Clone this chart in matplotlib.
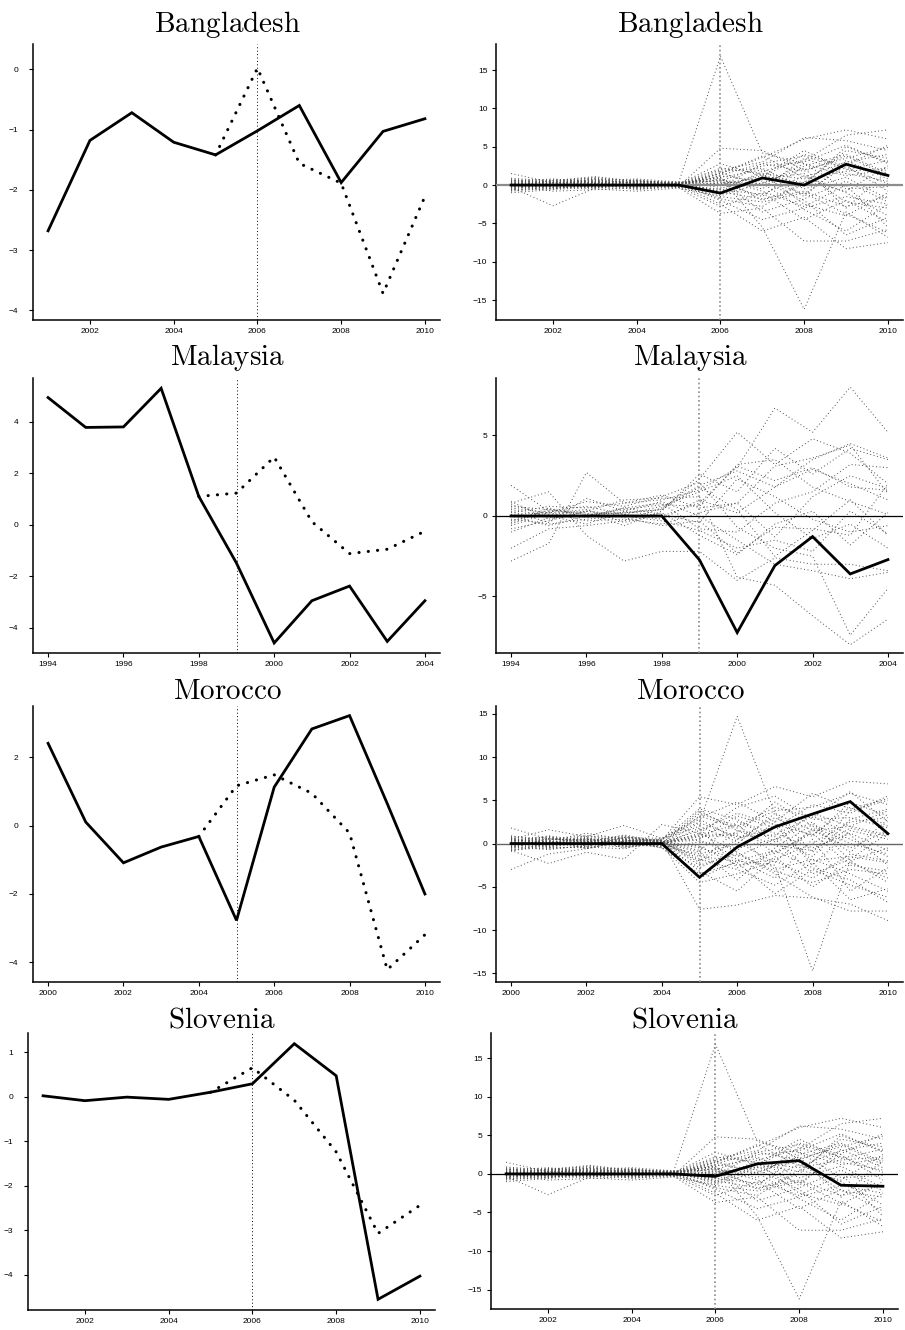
import numpy as np
import matplotlib
matplotlib.use("Agg")
import matplotlib.pyplot as plt

plt.rcParams['font.family'] = ['Liberation Sans', 'DejaVu Sans']
plt.rcParams['mathtext.fontset'] = 'cm'

# ---------------- data ----------------
countries = ["Bangladesh", "Malaysia", "Morocco", "Slovenia"]

bd_years = list(range(2001, 2011))
bd_actual = [-2.68, -1.18, -0.72, -1.21, -1.42, -1.02, -0.60, -1.88, -1.03, -0.82]
bd_synth_years = list(range(2005, 2011))
bd_synth = [-1.42, 0.02, -1.56, -1.89, -3.72, -2.11]
bd_gap = [0.0, 0.0, 0.0, 0.0, 0.0, -1.05, 0.93, 0.0, 2.72, 1.25]
bd_treat = 2006

my_years = list(range(1994, 2005))
my_actual = [4.94, 3.78, 3.80, 5.30, 1.10, -1.49, -4.59, -2.95, -2.38, -4.53, -2.95]
my_synth_years = list(range(1998, 2005))
my_synth = [1.10, 1.23, 2.63, 0.12, -1.12, -0.95, -0.25]
my_gap = [0.0, 0.0, 0.0, 0.0, 0.0, -2.73, -7.24, -3.08, -1.28, -3.60, -2.71]
my_treat = 1999

ma_years = list(range(2000, 2011))
ma_actual = [2.40, 0.10, -1.09, -0.63, -0.32, -2.77, 1.12, 2.82, 3.21, 0.64, -2.00]
ma_synth_years = list(range(2004, 2011))
ma_synth = [-0.32, 1.16, 1.48, 0.94, -0.22, -4.21, -3.19]
ma_gap = [0.0, 0.0, 0.0, 0.0, 0.0, -3.90, -0.40, 1.92, 3.42, 4.85, 1.15]
ma_treat = 2005

sl_years = list(range(2001, 2011))
sl_actual = [0.02, -0.09, -0.01, -0.06, 0.10, 0.29, 1.19, 0.47, -4.55, -4.03]
sl_synth_years = list(range(2005, 2011))
sl_synth = [0.10, 0.65, -0.08, -1.24, -3.07, -2.44]
sl_gap = [0.0, 0.0, 0.0, 0.0, 0.0, -0.32, 1.30, 1.72, -1.47, -1.60]
sl_treat = 2006

# placebo gaps, years 2001-2010 (same donor pool for Bangladesh and Slovenia)
placebo_2001_2010 = [
    [0.2, 0.1, 0.3, 0.1, 0.3, 16.8, 4.2, 2.8, 1.2, 2.0],
    [0.1, -0.2, 0.0, -0.1, 0.2, 1.0, -5.5, -16.2, -3.5, -6.8],
    [1.5, 0.3, 0.2, 0.0, -0.2, 4.8, 4.5, 2.0, 3.5, 4.9],
    [-0.3, -2.7, -0.4, 0.2, 0.1, 2.0, 3.0, 6.2, 5.8, 4.5],
    [0.4, 0.6, 1.1, 0.5, 0.0, 1.5, 3.6, 6.0, 7.2, 6.0],
    [-0.5, 0.2, 0.4, 0.6, 0.3, -0.8, 1.8, 3.2, 6.5, 7.2],
    [0.6, 0.4, -0.3, -0.5, -0.3, -3.7, -3.0, -7.3, -7.3, -5.8],
    [-0.8, -0.4, 0.3, -0.2, 0.1, -2.5, -6.0, -4.2, -8.3, -7.5],
    [0.3, 0.5, 0.7, 0.2, -0.1, 1.2, 0.5, -2.0, -6.5, -4.2],
    [-0.2, 0.1, 0.6, 0.8, 0.4, 0.5, 2.5, 3.0, 5.2, 2.8],
    [0.0, -0.3, -0.5, -0.8, -0.4, -1.5, -2.2, -1.0, -3.8, -6.2],
    [0.5, 0.8, 0.4, 0.3, 0.1, 2.8, 1.2, 4.5, 2.0, 3.2],
    [-0.6, -0.5, 0.1, 0.4, 0.2, -1.2, 0.8, 1.5, -2.2, -3.0],
    [0.2, 0.4, 0.5, -0.4, -0.2, 0.3, -1.5, 2.5, 4.0, 1.5],
    [-1.0, -0.6, -0.2, 0.3, 0.3, -2.0, -4.5, -3.0, -1.5, -2.5],
    [0.8, 0.2, -0.4, 0.1, 0.0, 1.8, 2.2, -0.5, 1.0, -1.8],
    [-0.4, 0.3, 0.8, 0.6, -0.3, 0.8, -0.5, 3.5, 1.5, 0.5],
    [0.3, -0.1, 0.2, -0.6, -0.1, -0.5, 1.5, -2.5, -4.0, -1.0],
    [-0.2, 0.6, 0.9, 0.2, 0.2, 1.5, 3.8, 1.0, 3.0, 4.0],
    [0.1, -0.8, -0.6, -0.3, 0.1, -1.8, -2.8, 0.5, -0.8, 2.5],
    [0.6, 0.7, 0.3, 0.5, 0.3, 0.2, 0.9, -1.2, 2.6, 5.2],
    [-0.7, -0.2, 0.4, 0.1, -0.2, -2.8, -1.0, -4.5, -2.0, -4.8],
    [0.2, 0.3, -0.2, -0.3, 0.1, 0.9, -2.0, 0.0, 5.0, 3.0],
    [0.9, 0.5, 0.6, 0.2, -0.1, 1.6, 0.0, 2.8, -0.5, -0.2],
    [-0.3, -0.4, -0.1, 0.5, 0.4, -0.3, 2.8, 1.8, 3.8, 1.2],
    [0.4, 0.1, 0.7, -0.2, 0.2, 0.6, -3.5, -1.8, 0.5, -2.2],
    [-0.5, 0.4, 0.2, 0.7, 0.1, -1.0, 1.0, 4.0, 2.5, -0.8],
    [0.0, 0.2, 0.5, 0.3, -0.3, 0.4, 0.2, -3.2, -6.0, -2.5],
    [0.7, -0.3, -0.2, -0.1, 0.2, 2.2, 1.5, 0.8, 1.8, 2.2],
    [-0.1, 0.6, 0.3, -0.4, 0.0, -0.6, -1.2, 1.2, -1.0, -4.0],
    [0.3, -0.5, 0.1, 0.4, 0.3, 1.0, 2.0, -1.5, 3.2, 0.8],
    [-0.4, 0.0, 0.8, 0.2, -0.2, -1.4, 0.3, 2.2, -3.0, 1.8],
    [0.5, 0.3, -0.3, 0.6, 0.1, 0.7, -0.8, -2.8, 0.0, -5.5],
    [-0.2, 0.2, 0.4, -0.2, 0.2, 0.0, 1.2, 0.3, 4.5, 3.5],
    [0.1, 0.4, 1.0, 0.4, -0.1, 1.3, 2.8, 3.8, 2.2, 0.2],
    [-0.6, -0.1, -0.3, 0.0, 0.3, -0.9, -1.8, -0.8, -2.8, -1.5],
]

# placebo gaps, years 1994-2004 (Malaysia)
placebo_1994_2004 = [
    [1.9, 0.3, 0.1, 0.2, 0.4, 2.3, 5.2, 3.2, 4.8, 3.9, 2.0],
    [-2.8, -1.7, 2.7, 0.8, 1.0, 1.6, 3.0, 6.7, 5.2, 8.0, 5.2],
    [0.8, 1.5, -1.2, -2.8, -2.2, -2.2, -4.0, -2.6, -3.0, -3.0, -3.4],
    [-2.0, -0.8, -0.6, -0.3, 0.5, 1.9, 2.8, 1.8, 3.5, 4.5, 3.6],
    [0.5, 0.2, 0.9, 0.6, 1.2, 2.1, -0.7, -2.0, -2.5, -7.4, -4.5],
    [-0.8, -0.3, 0.3, 1.0, 1.1, 1.2, -3.8, -4.3, -6.2, -8.0, -6.4],
    [0.3, -0.4, 1.1, 0.3, 0.0, 0.8, 3.1, 2.2, 3.0, 1.8, 1.6],
    [-0.4, 0.5, -0.1, 0.5, 0.8, -0.8, -1.0, 0.8, 1.5, 3.2, 3.0],
    [0.1, 0.2, -0.3, -0.2, -0.5, 0.2, 0.8, 3.1, 3.6, 4.4, 1.4],
    [0.9, -0.2, 0.3, 0.1, 0.6, 1.5, 2.5, 0.2, -1.4, -0.5, -2.0],
    [-0.6, 0.2, 0.4, -0.4, 0.2, -1.2, -2.4, -0.5, 0.3, -1.8, 0.2],
    [0.2, 0.6, 0.5, 0.8, 1.3, 0.5, 0.8, -1.3, 1.2, 2.5, 1.7],
    [-0.2, -0.5, -0.2, 0.0, -0.3, -0.9, -2.0, -1.5, -2.2, 0.3, -1.1],
    [0.6, 0.4, 0.2, -0.6, 0.3, 2.6, 1.5, 4.2, 2.6, 4.2, 3.5],
    [-1.0, -0.1, 0.0, 0.5, 0.1, -0.4, 2.3, 1.2, -0.2, -1.0, -0.6],
    [0.4, 0.0, -0.5, 0.3, 0.9, 0.0, -1.5, -3.0, -3.4, -3.9, -3.5],
    [-0.3, 0.3, 0.6, 0.1, -0.2, 1.0, 0.2, 1.8, 2.9, 2.0, 1.0],
    [0.0, -0.6, 0.0, 0.4, 0.7, 0.6, 3.2, 3.5, 1.8, 0.9, 0.1],
    [0.7, 0.1, 0.3, -0.1, -0.6, -0.3, -2.3, -0.7, -0.8, -1.2, 2.0],
    [-0.5, 0.4, 0.1, 0.2, 0.4, 1.8, 0.4, -2.5, -0.9, 1.0, -1.2],
]

# placebo gaps, years 2000-2010 (Morocco)
placebo_2000_2010 = [
    [0.3, 0.2, -0.1, 0.3, 0.5, 2.5, 14.7, 3.5, 1.5, 2.0, 1.0],
    [-0.2, 0.1, 0.3, -0.2, 0.1, -1.5, -2.0, -2.5, -14.7, -2.0, -4.5],
    [1.8, 0.5, 0.4, 0.6, 0.3, -7.6, -7.1, -6.0, -6.3, -7.0, -8.9],
    [-3.0, -1.2, -0.6, 0.2, 0.4, 5.4, 4.5, 6.6, 5.4, 7.2, 6.9],
    [0.5, 1.6, 0.8, 2.1, 0.6, 3.0, 4.8, 2.5, 5.8, 4.0, 5.2],
    [-0.8, -2.3, -1.0, -1.8, 2.2, 1.2, -1.0, -3.5, -6.2, -7.8, -7.8],
    [0.4, 0.3, 1.2, 0.5, -0.5, -3.5, -2.2, -5.8, -3.0, -4.8, -6.2],
    [-0.5, 0.6, 0.2, 0.9, 0.0, 3.5, 2.0, 4.2, 3.0, 6.0, 2.5],
    [0.2, -0.4, -0.5, 0.3, 0.2, -2.0, 1.5, 0.8, -1.5, 2.8, 4.0],
    [-0.3, 0.4, 0.7, -0.3, -0.2, 1.8, -2.8, -1.0, 1.2, -2.5, -3.2],
    [0.6, -0.2, 0.1, 0.4, 0.3, 0.5, 3.2, 1.8, 4.5, 3.5, 5.5],
    [-0.7, -0.5, 0.5, 0.0, -0.4, -4.5, -3.5, -2.0, -4.0, -1.2, -2.0],
    [0.1, 0.8, -0.3, 0.7, 0.6, 2.8, 0.5, 3.0, 0.8, 4.8, 3.2],
    [0.9, 0.2, 0.6, -0.5, 0.1, -1.0, -4.2, -0.5, 2.2, 0.5, -1.5],
    [-0.4, -0.7, -0.2, 0.4, 0.0, 0.8, 1.0, -3.0, -1.8, -3.5, -5.5],
    [0.3, 0.5, 0.9, 0.2, -0.3, -2.8, -0.8, 2.5, -2.5, 1.5, 0.5],
    [-0.1, 0.3, -0.4, -0.6, 0.4, 4.0, 2.8, 0.2, 3.5, 2.0, 3.8],
    [0.5, -0.3, 0.2, 0.8, 0.2, -0.5, -1.8, -4.0, 0.5, -5.5, -2.8],
    [-0.9, 0.1, 0.4, 0.1, -0.1, 1.2, 4.2, 5.5, 2.8, 3.0, 1.8],
    [0.2, 0.9, 0.3, -0.2, 0.3, -3.2, -5.5, -1.5, -5.0, -2.2, -4.0],
    [0.7, 0.4, -0.6, 0.3, 0.5, 2.0, 0.2, -2.2, 1.8, -1.0, 2.8],
    [-0.6, -0.1, 0.2, 1.0, 0.2, -0.8, 2.5, 1.2, -0.5, 1.2, -0.8],
    [0.4, 0.2, 0.5, -0.1, -0.2, 3.2, 1.8, 3.8, 4.2, 5.8, 4.5],
    [-0.2, -0.6, -0.3, 0.5, 0.4, -1.8, -3.0, -4.8, -2.2, -6.5, -5.2],
    [0.8, 0.6, 0.1, 0.2, -0.5, 0.2, -0.5, 0.5, -3.5, -1.8, 1.2],
    [-0.3, 0.0, 0.9, 0.6, 0.1, 1.5, 3.5, 2.2, 1.0, 4.2, 2.0],
    [0.1, -0.3, -0.1, -0.4, 0.3, -2.5, -1.2, -3.2, -4.5, -3.0, -3.5],
    [-0.5, 0.5, 0.4, 0.3, 0.0, 0.9, 1.2, 4.8, 2.0, 0.0, -1.2],
    [0.6, 0.1, -0.2, 0.7, 0.2, -0.3, -2.5, -1.8, 0.0, 2.5, 3.0],
    [-0.1, 0.7, 0.3, -0.3, -0.1, 2.4, 0.8, 1.0, 3.2, 1.0, -2.5],
    [0.2, -0.4, 0.6, 0.1, 0.4, -4.0, -2.0, -0.8, -2.8, -4.2, -6.8],
    [-0.4, 0.3, -0.5, 0.2, 0.2, 1.0, 2.2, -1.2, 1.5, -0.5, 1.5],
    [0.3, 0.8, 0.2, 0.5, -0.3, -1.2, 0.0, 3.5, -1.0, 3.8, 5.0],
    [-0.8, -0.2, 0.1, -0.1, 0.1, 0.4, -1.5, 0.5, 2.5, -2.0, -0.5],
    [0.5, 0.0, 0.7, 0.4, 0.0, 3.8, 1.5, -0.2, -0.8, 1.8, 0.8],
    [0.0, -0.5, -0.4, 0.8, 0.3, -2.2, 0.5, 2.0, -2.0, -1.5, -2.2],
]

# ---------------- layout ----------------
W, H = 905, 1330
fig = plt.figure(figsize=(W / 100, H / 100), dpi=100)


def add_ax(l, r, t, b):
    return fig.add_axes([l / W, 1 - b / H, (r - l) / W, (b - t) / H])


def style(ax, years, ylim, yticks, ypad):
    x0, x1 = years[0], years[-1]
    ext = 0.04 * (x1 - x0)
    ax.set_xlim(x0 - ext, x1 + ext)
    ax.set_ylim(*ylim)
    first = x0 if x0 % 2 == 0 else x0 + 1
    ax.set_xticks(np.arange(first, x1 + 1, 2))
    ax.set_yticks(yticks)
    for s in ["top", "right"]:
        ax.spines[s].set_visible(False)
    for s in ["left", "bottom"]:
        ax.spines[s].set_linewidth(1.1)
    ax.tick_params(axis="both", labelsize=6, length=3, width=0.8, direction="out")
    ax.tick_params(axis="x", pad=3.0)
    ax.tick_params(axis="y", pad=ypad)


def title(ax, name, baseline_px, top_px, bottom_px):
    h = bottom_px - top_px
    ax.text(0.477, 1 + (top_px - baseline_px) / h, r"$\mathrm{" + name + "}$",
            transform=ax.transAxes, ha="center", va="baseline", fontsize=21)


panels = [
    dict(name="Bangladesh", years=bd_years, actual=bd_actual, syears=bd_synth_years, synth=bd_synth,
         gap=bd_gap, plac=placebo_2001_2010, treat=bd_treat,
         lrect=(33, 440, 44, 320), rrect=(496, 903, 44, 320), base=32,
         lylim=(-4.16, 0.42), lyt=[-4, -3, -2, -1, 0],
         rylim=(-17.6, 18.4), ryt=[-15, -10, -5, 0, 5, 10, 15], zc="0.55", zw=1.6),
    dict(name="Malaysia", years=my_years, actual=my_actual, syears=my_synth_years, synth=my_synth,
         gap=my_gap, plac=placebo_1994_2004, treat=my_treat,
         lrect=(33, 440, 378, 653), rrect=(496, 903, 378, 653), base=365,
         lylim=(-4.98, 5.70), lyt=[-4, -2, 0, 2, 4],
         rylim=(-8.51, 8.57), ryt=[-5, 0, 5], zc="black", zw=0.9),
    dict(name="Morocco", years=ma_years, actual=ma_actual, syears=ma_synth_years, synth=ma_synth,
         gap=ma_gap, plac=placebo_2000_2010, treat=ma_treat,
         lrect=(33, 440, 706, 982), rrect=(496, 903, 706, 982), base=699,
         lylim=(-4.57, 3.49), lyt=[-4, -2, 0, 2],
         rylim=(-16.0, 15.9), ryt=[-15, -10, -5, 0, 5, 10, 15], zc="0.4", zw=1.0),
    dict(name="Slovenia", years=sl_years, actual=sl_actual, syears=sl_synth_years, synth=sl_synth,
         gap=sl_gap, plac=placebo_2001_2010, treat=sl_treat,
         lrect=(28, 435, 1033, 1310), rrect=(491, 898, 1033, 1309), base=1027,
         lylim=(-4.79, 1.43), lyt=[-4, -3, -2, -1, 0, 1],
         rylim=(-17.5, 18.25), ryt=[-15, -10, -5, 0, 5, 10, 15], zc="black", zw=0.9),
]

for p in panels:
    # left: actual vs synthetic
    axl = add_ax(*p["lrect"])
    style(axl, p["years"], p["lylim"], p["lyt"], 7.5)
    axl.axvline(p["treat"], color="black", lw=0.7, linestyle=(0, (1, 2.5)))
    axl.plot(p["syears"], p["synth"], color="black", lw=2.2, linestyle=(0, (0.05, 3.0)),
             dash_capstyle="round")
    axl.plot(p["years"], p["actual"], color="black", lw=2.0, solid_joinstyle="miter")
    title(axl, p["name"], p["base"], p["lrect"][2], p["lrect"][3])

    # right: placebo gaps
    axr = add_ax(*p["rrect"])
    style(axr, p["years"], p["rylim"], p["ryt"], 3.2)
    for g in p["plac"]:
        axr.plot(p["years"], g, color="0.3", lw=0.7, linestyle=(0, (1, 2.6)))
    axr.axhline(0, color=p["zc"], lw=p["zw"], zorder=3)
    axr.axvline(p["treat"], color="0.55", lw=1.2, linestyle=(0, (1, 1.6)), zorder=3)
    axr.plot(p["years"], p["gap"], color="black", lw=2.0, zorder=4, solid_joinstyle="miter")
    title(axr, p["name"], p["base"], p["rrect"][2], p["rrect"][3])

fig.savefig("out.png", dpi=100)
